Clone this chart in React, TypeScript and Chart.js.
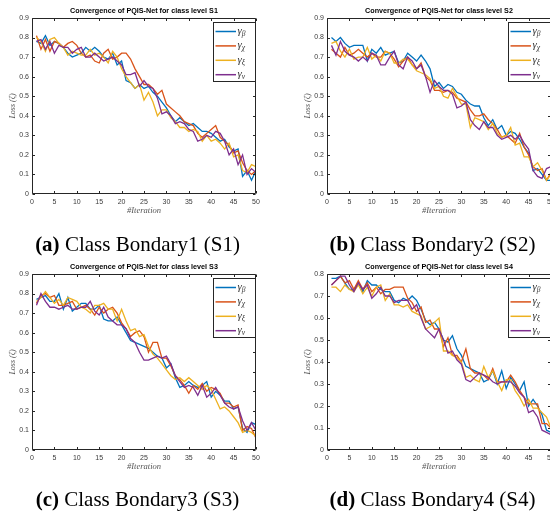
import React, { useEffect, useRef } from "react";
import { Chart, registerables } from "chart.js";
Chart.register(...registerables);

// ---------- data ----------
const iterations = [
  1, 2, 3, 4, 5, 6, 7, 8, 9, 10, 11, 12, 13, 14, 15, 16, 17, 18, 19, 20, 21, 22, 23, 24, 25,
  26, 27, 28, 29, 30, 31, 32, 33, 34, 35, 36, 37, 38, 39, 40, 41, 42, 43, 44, 45, 46, 47, 48, 49, 50,
];
const xTicks = [0, 5, 10, 15, 20, 25, 30, 35, 40, 45, 50];
const seriesSubs = ["β", "χ", "ξ", "ν"];
const seriesColors = ["#0072BD", "#D95319", "#EDB120", "#7E2F8E"];

const titles = [
  "Convergence of PQIS-Net for class level S1",
  "Convergence of PQIS-Net for class level S2",
  "Convergence of PQIS-Net for class level S3",
  "Convergence of PQIS-Net for class level S4",
];
const captionLetters = ["(a)", "(b)", "(c)", "(d)"];
const captionTexts = [" Class Bondary1 (S1)", " Class Bondary2 (S2)", " Class Bondary3 (S3)", " Class Bondary4 (S4)"];
const yMaxes = [0.9, 0.9, 0.9, 0.8];

const s1Beta = [0.78,0.77,0.81,0.76,0.78,0.77,0.75,0.72,0.70,0.71,0.72,0.75,0.73,0.75,0.73,0.70,0.69,0.72,0.66,0.68,0.58,0.57,0.54,0.56,0.54,0.55,0.52,0.50,0.47,0.44,0.40,0.37,0.39,0.37,0.35,0.36,0.34,0.32,0.32,0.31,0.29,0.27,0.28,0.24,0.22,0.23,0.09,0.12,0.07,0.12];
const s1Chi = [0.81,0.74,0.79,0.73,0.78,0.77,0.75,0.77,0.78,0.76,0.72,0.70,0.71,0.68,0.67,0.72,0.74,0.69,0.70,0.72,0.72,0.69,0.64,0.60,0.56,0.56,0.54,0.51,0.53,0.46,0.44,0.42,0.40,0.37,0.36,0.35,0.31,0.29,0.31,0.33,0.35,0.29,0.27,0.25,0.21,0.22,0.16,0.12,0.10,0.12];
const s1Xi = [0.80,0.78,0.73,0.79,0.80,0.77,0.75,0.71,0.73,0.72,0.71,0.71,0.74,0.71,0.72,0.70,0.67,0.73,0.70,0.64,0.60,0.57,0.54,0.56,0.48,0.52,0.47,0.40,0.43,0.43,0.39,0.37,0.34,0.34,0.32,0.33,0.32,0.27,0.30,0.27,0.28,0.26,0.23,0.26,0.19,0.20,0.12,0.11,0.15,0.14];
const s1Nu = [0.78,0.79,0.74,0.78,0.72,0.76,0.75,0.75,0.72,0.74,0.75,0.70,0.70,0.72,0.70,0.68,0.69,0.70,0.68,0.66,0.61,0.61,0.62,0.55,0.58,0.55,0.54,0.49,0.41,0.42,0.40,0.36,0.37,0.36,0.33,0.32,0.27,0.28,0.30,0.29,0.32,0.31,0.27,0.20,0.23,0.15,0.20,0.10,0.13,0.11];

const s2Beta = [0.80,0.78,0.80,0.77,0.75,0.76,0.76,0.76,0.68,0.74,0.72,0.75,0.71,0.72,0.73,0.67,0.68,0.72,0.70,0.68,0.71,0.68,0.64,0.55,0.57,0.54,0.56,0.55,0.52,0.51,0.48,0.46,0.45,0.45,0.39,0.35,0.38,0.33,0.35,0.30,0.32,0.31,0.28,0.24,0.21,0.12,0.13,0.10,0.07,0.07];
const s2Chi = [0.74,0.72,0.70,0.75,0.71,0.72,0.74,0.72,0.70,0.72,0.70,0.70,0.73,0.72,0.69,0.65,0.68,0.70,0.66,0.64,0.67,0.60,0.58,0.53,0.53,0.52,0.53,0.52,0.49,0.48,0.47,0.43,0.40,0.40,0.41,0.38,0.36,0.33,0.29,0.30,0.28,0.26,0.31,0.24,0.20,0.14,0.12,0.13,0.07,0.11];
const s2Xi = [0.77,0.78,0.73,0.70,0.74,0.69,0.70,0.70,0.75,0.69,0.71,0.68,0.73,0.72,0.67,0.67,0.69,0.69,0.66,0.63,0.62,0.61,0.59,0.54,0.55,0.50,0.49,0.54,0.50,0.46,0.46,0.34,0.39,0.38,0.37,0.33,0.36,0.31,0.29,0.30,0.34,0.25,0.26,0.19,0.19,0.14,0.16,0.12,0.07,0.10];
const s2Nu = [0.76,0.71,0.78,0.73,0.71,0.70,0.68,0.70,0.68,0.72,0.71,0.66,0.66,0.70,0.73,0.66,0.64,0.70,0.68,0.64,0.66,0.60,0.52,0.58,0.55,0.53,0.53,0.51,0.44,0.45,0.47,0.38,0.35,0.33,0.37,0.34,0.34,0.30,0.28,0.29,0.30,0.28,0.30,0.26,0.23,0.12,0.09,0.08,0.13,0.14];

const s3Beta = [0.77,0.78,0.79,0.76,0.76,0.80,0.72,0.78,0.71,0.73,0.75,0.75,0.72,0.72,0.74,0.67,0.66,0.66,0.68,0.64,0.60,0.56,0.55,0.54,0.53,0.52,0.50,0.48,0.47,0.42,0.44,0.37,0.32,0.33,0.35,0.33,0.32,0.33,0.35,0.27,0.30,0.28,0.25,0.25,0.21,0.22,0.11,0.09,0.14,0.13];
const s3Chi = [0.75,0.79,0.80,0.78,0.79,0.74,0.74,0.75,0.76,0.72,0.73,0.74,0.72,0.69,0.73,0.70,0.72,0.73,0.70,0.65,0.62,0.58,0.60,0.61,0.58,0.50,0.55,0.55,0.47,0.47,0.43,0.38,0.36,0.33,0.29,0.33,0.31,0.34,0.30,0.32,0.31,0.29,0.24,0.24,0.22,0.23,0.10,0.12,0.11,0.06];
const s3Xi = [0.76,0.78,0.81,0.78,0.75,0.77,0.74,0.78,0.77,0.76,0.73,0.72,0.70,0.74,0.74,0.75,0.72,0.72,0.66,0.72,0.66,0.61,0.62,0.58,0.59,0.53,0.49,0.47,0.44,0.41,0.38,0.36,0.37,0.35,0.37,0.35,0.33,0.31,0.33,0.31,0.26,0.21,0.22,0.20,0.17,0.14,0.09,0.10,0.09,0.07];
const s3Nu = [0.74,0.80,0.76,0.73,0.73,0.72,0.73,0.74,0.72,0.72,0.73,0.73,0.76,0.71,0.69,0.73,0.68,0.66,0.64,0.64,0.62,0.57,0.55,0.50,0.46,0.46,0.47,0.48,0.47,0.48,0.44,0.38,0.35,0.32,0.33,0.32,0.28,0.33,0.27,0.29,0.32,0.28,0.24,0.22,0.21,0.22,0.15,0.10,0.14,0.10];

const s4Beta = [0.78,0.78,0.79,0.76,0.73,0.73,0.76,0.72,0.77,0.75,0.75,0.73,0.72,0.72,0.68,0.67,0.69,0.68,0.70,0.68,0.64,0.59,0.57,0.58,0.55,0.50,0.49,0.52,0.46,0.43,0.38,0.37,0.36,0.35,0.31,0.32,0.36,0.30,0.36,0.28,0.33,0.30,0.27,0.31,0.20,0.23,0.20,0.16,0.09,0.08];
const s4Chi = [0.75,0.77,0.79,0.76,0.77,0.73,0.77,0.73,0.76,0.72,0.74,0.71,0.73,0.73,0.74,0.74,0.74,0.69,0.67,0.63,0.65,0.58,0.59,0.55,0.55,0.47,0.51,0.43,0.43,0.40,0.46,0.37,0.35,0.35,0.34,0.32,0.37,0.31,0.31,0.31,0.34,0.31,0.27,0.24,0.21,0.21,0.21,0.12,0.12,0.10];
const s4Xi = [0.74,0.74,0.72,0.75,0.73,0.72,0.75,0.71,0.74,0.70,0.74,0.75,0.68,0.71,0.66,0.66,0.65,0.66,0.63,0.62,0.61,0.55,0.56,0.58,0.60,0.45,0.45,0.43,0.42,0.40,0.33,0.34,0.32,0.31,0.38,0.33,0.36,0.31,0.27,0.32,0.32,0.27,0.24,0.20,0.23,0.19,0.19,0.17,0.15,0.10];
const s4Nu = [0.75,0.77,0.79,0.79,0.75,0.72,0.76,0.73,0.75,0.69,0.71,0.74,0.70,0.70,0.67,0.68,0.68,0.68,0.64,0.66,0.60,0.55,0.53,0.51,0.55,0.50,0.44,0.45,0.41,0.39,0.32,0.31,0.33,0.35,0.34,0.33,0.31,0.30,0.31,0.31,0.31,0.29,0.26,0.24,0.17,0.18,0.15,0.09,0.08,0.07];

const allSeries = [
  [s1Beta, s1Chi, s1Xi, s1Nu],
  [s2Beta, s2Chi, s2Xi, s2Nu],
  [s3Beta, s3Chi, s3Xi, s3Nu],
  [s4Beta, s4Chi, s4Xi, s4Nu],
];

// ---------- layout ----------
const CW = 275;
const CH = 255;
const PAD_LEFT = 32;
const PAD_TOP = 18;
const PLOT_W = 224;
const PLOT_H = 176;
const panelPos = [
  { left: 0, top: 0 },
  { left: 295, top: 0 },
  { left: 0, top: 255.5 },
  { left: 295, top: 255.5 },
];

const frameColor = "#262626";
const tickFont = "Liberation Sans, Arial, sans-serif";
const serif = "Liberation Serif, Times New Roman, serif";

const matlabPlugin = {
  id: "matlabFrame",
  afterDraw(chart: any, _args: any, opts: any) {
    const { ctx, chartArea: a, scales } = chart;
    const xs = scales.x;
    const ys = scales.y;
    const L = Math.round(a.left) + 0.5;
    const R = Math.round(a.right) - 0.5;
    const T = Math.round(a.top) + 0.5;
    const B = Math.round(a.bottom) - 0.5;
    ctx.save();
    ctx.strokeStyle = frameColor;
    ctx.lineWidth = 1;
    ctx.beginPath();
    ctx.rect(L, T, R - L, B - T);
    ctx.stroke();
    const tl = 2.5;
    ctx.beginPath();
    xs.ticks.forEach((t: any) => {
      const px = Math.round(xs.getPixelForValue(t.value)) + 0.5;
      ctx.moveTo(px, B);
      ctx.lineTo(px, B - tl);
      ctx.moveTo(px, T);
      ctx.lineTo(px, T + tl);
    });
    ys.ticks.forEach((t: any) => {
      const py = Math.round(ys.getPixelForValue(t.value)) + 0.5;
      ctx.moveTo(L, py);
      ctx.lineTo(L + tl, py);
      ctx.moveTo(R, py);
      ctx.lineTo(R - tl, py);
    });
    ctx.stroke();

    // title
    const cx = (a.left + a.right) / 2;
    ctx.fillStyle = "#000";
    ctx.font = `bold 7.2px ${tickFont}`;
    ctx.textAlign = "center";
    ctx.textBaseline = "middle";
    ctx.fillText(opts.title, cx, a.top - 6.6);

    // x label
    ctx.fillStyle = "#555";
    ctx.font = `italic 8.5px ${serif}`;
    ctx.fillText("#Iteration", cx, a.bottom + 17);

    // y label
    ctx.save();
    ctx.translate(a.left - 19, (a.top + a.bottom) / 2);
    ctx.rotate(-Math.PI / 2);
    ctx.font = `italic 8px ${serif}`;
    ctx.fillText("Loss (ζ)", 0, 0);
    ctx.restore();

    // legend
    const lw = 43;
    const lh = 59;
    const lx = Math.round(a.right - lw) + 0.5;
    const ly = Math.round(a.top + 4.4) + 0.5;
    ctx.fillStyle = "#fff";
    ctx.fillRect(lx, ly, lw, lh);
    ctx.strokeStyle = frameColor;
    ctx.lineWidth = 1;
    ctx.strokeRect(lx, ly, lw - 1, lh);
    opts.subs.forEach((s: string, i: number) => {
      const yy = ly + 9 + i * 14.4;
      ctx.strokeStyle = opts.colors[i];
      ctx.lineWidth = 1.5;
      ctx.beginPath();
      ctx.moveTo(lx + 2, yy);
      ctx.lineTo(lx + 22.5, yy);
      ctx.stroke();
      ctx.fillStyle = "#333";
      ctx.textAlign = "left";
      ctx.textBaseline = "alphabetic";
      ctx.font = `italic 11px ${serif}`;
      ctx.fillText("γ", lx + 24, yy + 2.5);
      const gw = ctx.measureText("γ").width;
      ctx.font = `italic 7.5px ${serif}`;
      ctx.fillText(s, lx + 24 + gw, yy + 4.5);
    });
    ctx.restore();
  },
};

function Panel({ idx }: { idx: number }) {
  const ref = useRef<HTMLCanvasElement>(null);
  useEffect(() => {
    const canvas = ref.current;
    if (!canvas) return;
    const series = allSeries[idx];
    const chart = new Chart(canvas, {
      type: "line",
      data: {
        datasets: series.map((vals, i) => ({
          label: "γ" + seriesSubs[i],
          data: iterations.map((it, k) => ({ x: it, y: vals[k] })),
          borderColor: seriesColors[i],
          backgroundColor: seriesColors[i],
          borderWidth: 1.3,
          pointRadius: 0,
          tension: 0,
          fill: false,
          order: 4 - i,
        })),
      },
      options: {
        animation: false,
        responsive: false,
        maintainAspectRatio: false,
        devicePixelRatio: 1,
        events: [],
        layout: { padding: { top: PAD_TOP, right: CW - PAD_LEFT - PLOT_W, left: 0, bottom: 0 } },
        plugins: {
          legend: { display: false },
          title: { display: false },
          tooltip: { enabled: false },
          matlabFrame: { title: titles[idx], subs: seriesSubs, colors: seriesColors },
        } as any,
        scales: {
          x: {
            type: "linear",
            min: 0,
            max: 50,
            afterBuildTicks: (scale: any) => {
              scale.ticks = xTicks.map((v) => ({ value: v }));
            },
            afterFit: (scale: any) => {
              scale.height = CH - PAD_TOP - PLOT_H;
            },
            grid: { display: false, drawTicks: false },
            border: { display: false },
            ticks: {
              padding: 4,
              color: "#3a3a3a",
              font: { family: tickFont, size: 7 },
              maxRotation: 0,
              autoSkip: false,
            },
          },
          y: {
            type: "linear",
            min: 0,
            max: yMaxes[idx],
            ticks: {
              stepSize: 0.1,
              padding: 3,
              color: "#3a3a3a",
              font: { family: tickFont, size: 7 },
              callback: (v: any) => (Math.abs(v) < 1e-9 ? "0" : Number(v).toFixed(1)),
            },
            afterFit: (scale: any) => {
              scale.width = PAD_LEFT;
            },
            grid: { display: false, drawTicks: false },
            border: { display: false },
          },
        },
      },
      plugins: [matlabPlugin],
    } as any);
    return () => chart.destroy();
  }, [idx]);
  const p = panelPos[idx];
  return (
    <canvas
      ref={ref}
      width={CW}
      height={CH}
      style={{ position: "absolute", left: p.left, top: p.top, width: CW, height: CH }}
    />
  );
}

function Caption({ idx }: { idx: number }) {
  const p = panelPos[idx];
  return (
    <div
      style={{
        position: "absolute",
        left: p.left,
        top: p.top + 233.5,
        width: CW,
        textAlign: "center",
        fontFamily: serif,
        fontSize: 21,
        lineHeight: "21px",
        color: "#000",
        whiteSpace: "nowrap",
      }}
    >
      <b>{captionLetters[idx]}</b>
      {captionTexts[idx]}
    </div>
  );
}

export default function App() {
  return (
    <div
      style={{
        position: "absolute",
        left: 0,
        top: 0,
        width: 550,
        height: 515,
        overflow: "hidden",
        background: "#fff",
      }}
    >
      {[0, 1, 2, 3].map((i) => (
        <Panel key={"p" + i} idx={i} />
      ))}
      {[0, 1, 2, 3].map((i) => (
        <Caption key={"c" + i} idx={i} />
      ))}
    </div>
  );
}
